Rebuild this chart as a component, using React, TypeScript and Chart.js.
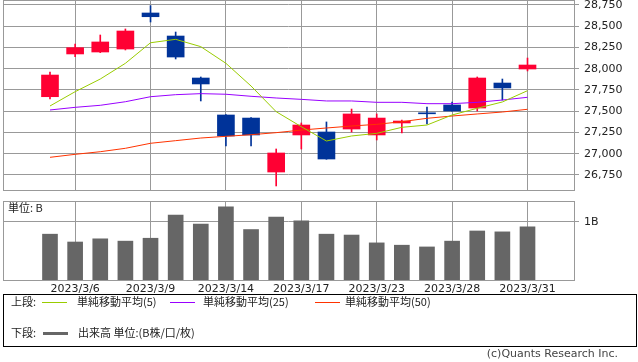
import React, { useEffect, useRef } from 'react';
import { Chart, registerables } from 'chart.js';
Chart.register(...registerables);

const dates = ['2023/3/3','2023/3/6','2023/3/7','2023/3/8','2023/3/9','2023/3/10','2023/3/13','2023/3/14','2023/3/15','2023/3/16','2023/3/17','2023/3/20','2023/3/22','2023/3/23','2023/3/24','2023/3/27','2023/3/28','2023/3/29','2023/3/30','2023/3/31'];
const openP = [27671, 28174, 28197, 28232, 28656, 28385, 27891, 27456, 27420, 26785, 27221, 27256, 27291, 27221, 27362, 27479, 27574, 27538, 27832, 27997];
const closeP = [27926, 28248, 28315, 28444, 28612, 28138, 27821, 27209, 27221, 27009, 27338, 26938, 27468, 27420, 27385, 27470, 27503, 27891, 27774, 28044];
const highP = [27962, 28291, 28397, 28468, 28742, 28432, 27903, 27460, 27425, 27056, 27362, 27374, 27526, 27468, 27397, 27550, 27609, 27903, 27879, 28126];
const lowP = [27644, 28142, 28190, 28221, 28550, 28115, 27621, 27091, 27091, 26621, 27056, 26935, 27256, 27162, 27244, 27350, 27500, 27503, 27632, 27974];
const ma5 = [27562, 27730, 27879, 28064, 28306, 28346, 28260, 28064, 27797, 27495, 27318, 27150, 27209, 27240, 27311, 27338, 27456, 27535, 27609, 27742];
const ma25 = [27515, 27546, 27570, 27612, 27671, 27695, 27707, 27700, 27676, 27656, 27640, 27621, 27621, 27605, 27605, 27589, 27589, 27605, 27632, 27664];
const ma50 = [26958, 26993, 27024, 27064, 27123, 27154, 27185, 27205, 27224, 27248, 27279, 27303, 27326, 27346, 27377, 27417, 27444, 27468, 27491, 27523];
const volume = [0.79, 0.655, 0.71, 0.67, 0.72, 1.12, 0.965, 1.26, 0.87, 1.085, 1.02, 0.79, 0.775, 0.64, 0.60, 0.57, 0.67, 0.845, 0.83, 0.915];
const labelIdx = [1, 4, 7, 10, 13, 16, 19];
const priceTicks = [26750, 27000, 27250, 27500, 27750, 28000, 28250, 28500, 28750];
const volTicks = [1];

const XMIN = -1.87;
const XMAX = 20.85;
const PMAX = 28808.8;
const PMIN = 26573.5;
const VMAX = 1.362;

const RED = '#ff0033';
const BLUE = '#003399';
const C5 = '#99cc00';
const C25 = '#9900ff';
const C50 = '#ff3300';
const GRID = '#999999';
const FONT = 'DejaVu Sans';

const framePlugin = {
  id: 'frame',
  beforeDatasetsDraw(chart: any) {
    const { ctx, chartArea: a } = chart;
    ctx.save();
    ctx.strokeStyle = GRID;
    ctx.lineWidth = 1;
    ctx.strokeRect(Math.round(a.left) + 0.5, Math.round(a.top) + 0.5, Math.round(a.right - a.left), Math.round(a.bottom - a.top));
    ctx.restore();
  },
};

const fitH = (h: number) => (s: any) => {
  s.height = h;
  s.paddingTop = 0; s.paddingBottom = 0; s.paddingLeft = 0; s.paddingRight = 0;
};
const fitW = (w: number) => (s: any) => {
  s.width = w;
  s.paddingTop = 0; s.paddingBottom = 0; s.paddingLeft = 0; s.paddingRight = 0;
};

export default function App() {
  const priceRef = useRef<HTMLCanvasElement>(null);
  const volRef = useRef<HTMLCanvasElement>(null);

  useEffect(() => {
    Chart.defaults.font.family = FONT;
    const idx = dates.map((_, i) => i);
    const cols = idx.map((i) => (closeP[i] >= openP[i] ? RED : BLUE));
    const line = (label: string, arr: number[], color: string) => ({
      type: 'line' as const,
      label,
      data: idx.map((i) => ({ x: i, y: arr[i] })),
      borderColor: color,
      borderWidth: 1,
      pointRadius: 0,
      tension: 0,
      order: 0,
    });
    const price = new Chart(priceRef.current!, {
      type: 'bar',
      data: {
        datasets: [
          line('MA5', ma5, C5),
          line('MA25', ma25, C25),
          line('MA50', ma50, C50),
          {
            type: 'bar',
            label: 'body',
            data: idx.map((i) => ({ x: i, y: [openP[i], closeP[i]] })) as any,
            backgroundColor: cols,
            barThickness: 17,
            grouped: false,
            minBarLength: 1,
            borderWidth: 0,
            order: 1,
          },
          {
            type: 'bar',
            label: 'wick',
            data: idx.map((i) => ({ x: i, y: [lowP[i], highP[i]] })) as any,
            backgroundColor: cols,
            barThickness: 1,
            grouped: false,
            borderWidth: 0,
            order: 2,
          },
        ] as any,
      },
      options: {
        responsive: false,
        animation: false,
        devicePixelRatio: 1,
        layout: { autoPadding: false, padding: { left: 3, top: 0, right: 0, bottom: 0 } },
        plugins: { legend: { display: false }, tooltip: { enabled: false } },
        scales: {
          x: {
            type: 'linear',
            offset: false,
            min: XMIN,
            max: XMAX,
            afterBuildTicks: (s: any) => { s.ticks = labelIdx.map((v) => ({ value: v })); },
            ticks: { display: false },
            grid: { color: GRID, drawTicks: false, offset: false },
            border: { color: GRID },
            afterFit: fitH(2),
          },
          y: {
            type: 'linear',
            position: 'right',
            min: PMIN,
            max: PMAX,
            afterBuildTicks: (s: any) => { s.ticks = priceTicks.map((v) => ({ value: v })); },
            ticks: {
              padding: 5,
              color: '#222',
              autoSkip: false,
              font: { family: FONT, size: 11 },
              callback: (v: any) => Number(v).toLocaleString('en-US'),
            },
            grid: { color: GRID, drawTicks: true, tickLength: 5 },
            border: { color: GRID },
            afterFit: fitW(64),
          },
        },
      } as any,
      plugins: [framePlugin],
    });

    const vol = new Chart(volRef.current!, {
      type: 'bar',
      data: {
        datasets: [
          {
            label: 'volume',
            data: idx.map((i) => ({ x: i, y: volume[i] })) as any,
            backgroundColor: '#666666',
            barThickness: 15,
            borderWidth: 0,
          },
        ],
      },
      options: {
        responsive: false,
        animation: false,
        devicePixelRatio: 1,
        layout: { autoPadding: false, padding: { left: 3, top: 6, right: 0, bottom: 0 } },
        plugins: { legend: { display: false }, tooltip: { enabled: false } },
        scales: {
          x: {
            type: 'linear',
            offset: false,
            min: XMIN,
            max: XMAX,
            afterBuildTicks: (s: any) => { s.ticks = labelIdx.map((v) => ({ value: v })); },
            ticks: {
              padding: 3,
              color: '#222',
              autoSkip: false,
              maxRotation: 0,
              font: { family: FONT, size: 11 },
              callback: (v: any) => dates[Math.round(Number(v))] ?? '',
            },
            grid: { color: GRID, drawTicks: false, offset: false },
            border: { color: GRID },
            afterFit: fitH(20),
          },
          y: {
            type: 'linear',
            position: 'right',
            min: 0,
            max: VMAX,
            afterBuildTicks: (s: any) => { s.ticks = volTicks.map((v) => ({ value: v })); },
            ticks: {
              padding: 5,
              color: '#222',
              font: { family: FONT, size: 11 },
              callback: (v: any) => `${v}B`,
            },
            grid: { color: GRID, drawTicks: true, tickLength: 5 },
            border: { color: GRID },
            afterFit: fitW(64),
          },
        },
      } as any,
      plugins: [framePlugin],
    });

    return () => {
      price.destroy();
      vol.destroy();
    };
  }, []);

  const txt: React.CSSProperties = {
    position: 'absolute',
    fontFamily: '"Noto Sans CJK JP", "DejaVu Sans", sans-serif',
    fontSize: 11,
    lineHeight: '13px',
    color: '#222',
    whiteSpace: 'nowrap',
  };
  const ln = (left: number, top: number, color: string, h: number): React.CSSProperties => ({
    position: 'absolute', left, top, width: 25, height: h, background: color,
  });

  return (
    <div style={{ position: 'fixed', left: 0, top: 0, width: 638, height: 362, background: '#fff', overflow: 'hidden' }}>
      <canvas ref={priceRef} width={638} height={192} style={{ position: 'absolute', left: 0, top: 0 }} />
      <canvas ref={volRef} width={638} height={105} style={{ position: 'absolute', left: 0, top: 195 }} />
      <div style={{ ...txt, left: 8, top: 201 }}>単位: B</div>
      <div style={{ position: 'absolute', left: 3, top: 294, width: 632, height: 51, border: '1px solid #000' }} />
      <div style={{ ...txt, left: 11, top: 295 }}>上段:</div>
      <div style={ln(42, 302, C5, 1)} />
      <div style={{ ...txt, left: 77, top: 295 }}>単純移動平均(5)</div>
      <div style={ln(170, 302, C25, 1)} />
      <div style={{ ...txt, left: 203, top: 295 }}>単純移動平均(25)</div>
      <div style={ln(315, 302, C50, 1)} />
      <div style={{ ...txt, left: 345, top: 295 }}>単純移動平均(50)</div>
      <div style={{ ...txt, left: 11, top: 326 }}>下段:</div>
      <div style={ln(43, 332, '#666666', 3)} />
      <div style={{ ...txt, left: 78, top: 326 }}>出来高 単位:(B株/口/枚)</div>
      <div style={{ ...txt, right: 20, top: 347, color: '#444', fontFamily: '"DejaVu Sans", sans-serif' }}>(c)Quants Research Inc.</div>
    </div>
  );
}
